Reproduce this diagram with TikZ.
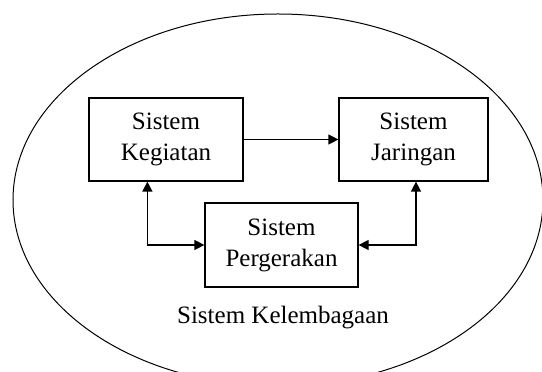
\documentclass[tikz,border=0pt]{standalone}
\usepackage{fontspec}
\setmainfont{Liberation Serif}
\usetikzlibrary{arrows.meta,positioning,calc}

\begin{document}
\begin{tikzpicture}[x=1pt, y=1pt, >={Triangle[length=10pt, width=10pt]},
    sysbox/.style={draw, line width=1.2pt, align=center, inner sep=0pt,
        font=\fontsize{25}{31}\selectfont},
    conn/.style={line width=1.2pt}]

    %% Background
    \useasboundingbox (0,0) rectangle (542,372);
    \clip (0,0) rectangle (542,372);

    % Kelembagaan
    \draw[line width=1pt] (278,172) ellipse (265 and 186);
    \node[font=\fontsize{25}{31}\selectfont] (kel) at (283,54) {Sistem Kelembagaan};

    % Boxes
    \node[sysbox, minimum width=154pt, minimum height=83pt] (keg) at (166,232.5)
        {Sistem\\Kegiatan};
    \node[sysbox, minimum width=149pt, minimum height=83pt] (jar) at (413.5,232.5)
        {Sistem\\Jaringan};
    \node[sysbox, minimum width=153pt, minimum height=84pt] (ger) at (281.5,127)
        {Sistem\\Pergerakan};

    % Connectors
    \draw[conn, ->] (keg.east) -- (jar.west);
    \draw[conn, <->] ([xshift=59pt]keg.south west) |- (ger.west);
    \draw[conn, <->] ([xshift=2.5pt]jar.south) |- (ger.east);

\end{tikzpicture}
\end{document}
